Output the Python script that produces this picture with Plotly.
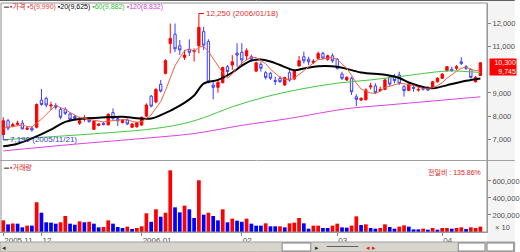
import plotly.graph_objects as go

# ---------------- data ----------------
nov = ["2005-11-%02d" % d for d in [21, 22, 23, 24, 25, 28, 29, 30]]
dec = ["2005-12-%02d" % d for d in [1, 2, 5, 6, 7, 8, 9, 12, 13, 14, 15, 16, 19, 20, 21, 22, 23, 26, 27, 28, 29]]
jan = ["2006-01-%02d" % d for d in [2, 3, 4, 5, 6, 9, 10, 11, 12, 13, 16, 17, 18, 19, 20, 23, 24, 25, 26, 27, 31]]
feb = ["2006-02-%02d" % d for d in [1, 2, 3, 6, 7, 8, 9, 10, 13, 14, 15, 16, 17, 20, 21, 22, 23, 24, 27, 28]]
mar = ["2006-03-%02d" % d for d in [2, 3, 6, 7, 8, 9, 10, 13, 14, 15, 16, 17, 20, 21, 22, 23, 24, 27, 28, 29, 30, 31]]
apr = ["2006-04-%02d" % d for d in [3, 4, 5, 6, 7, 10, 11, 12, 13]]
dates = nov + dec + jan + feb + mar + apr

opens = [7200, 7800, 7560, 7640, 7700, 7430, 7480, 7520, 8690, 8760,
         8440, 8460, 8290, 8290, 8090, 7980, 7690, 7870, 7890, 7430,
         7600, 7690, 7620, 8150, 7890, 7720, 7830, 7520, 7540, 7620,
         8000, 8860, 8610, 9370, 9840, 11130, 11530, 11030, 10530, 10880,
         10780, 11035, 11640, 11210, 9340, 9240, 9440, 10130, 10200, 10710,
         10750, 10590, 10560, 9940, 10230, 9870, 9840, 9530, 9630, 9340,
         9870, 9600, 10160, 10560, 10450, 10300, 10490, 10700, 10450, 10600,
         10450, 9810, 9555, 9630, 8830, 8690, 8700, 9260, 9300, 9100,
         9150, 9670, 9730, 9770, 9270, 9100, 9240, 9120, 9240, 9240,
         9240, 9480, 9630, 9960, 10020, 10060, 10340, 10130, 10010, 9480,
         9750]
highs = [7950, 7880, 7720, 7800, 7830, 7560, 7560, 8550, 9170, 8840,
         8620, 8560, 8380, 8380, 8150, 8050, 7970, 8050, 7970, 7830,
         7700, 7750, 8120, 8330, 7970, 7870, 7900, 7700, 7760, 7980,
         8550, 8910, 9200, 9560, 10450, 11990, 11990, 11280, 10850, 11310,
         10920, 12250, 11850, 11310, 9560, 9560, 10130, 10200, 10630, 11140,
         11140, 10920, 10650, 10350, 10350, 9940, 9910, 9700, 9730, 9700,
         10060, 10010, 10590, 10780, 10560, 10450, 10780, 10780, 10650, 10700,
         10500, 9910, 9720, 9700, 8940, 8800, 9200, 9440, 9410, 9270,
         9630, 9770, 9810, 9910, 9340, 9420, 9340, 9290, 9300, 9280,
         9520, 9680, 9850, 10160, 10130, 10200, 10530, 10200, 10060, 9730,
         10330]
lows = [7190, 7380, 7520, 7600, 7420, 7400, 7330, 7470, 8450, 8380,
        8260, 8280, 7860, 8050, 7830, 7850, 7620, 7760, 7720, 7400,
        7560, 7600, 7610, 7830, 7570, 7680, 7610, 7480, 7500, 7570,
        7970, 8380, 8550, 9020, 9800, 10700, 10760, 10630, 10420, 10590,
        10350, 10700, 10850, 9410, 8720, 9010, 9410, 9700, 9990, 10130,
        10200, 10420, 10350, 9900, 9920, 9580, 9560, 9340, 9440, 9300,
        9480, 9550, 10130, 10270, 10200, 10250, 10420, 10450, 10380, 10300,
        10000, 9550, 9520, 8910, 8430, 8650, 8690, 9150, 8950, 9050,
        9120, 9300, 9410, 9340, 8840, 9080, 9050, 9050, 9100, 9090,
        9200, 9450, 9600, 9920, 9920, 9990, 10200, 9990, 9630, 9440,
        9740]
closes = [7800, 7480, 7640, 7700, 7450, 7480, 7400, 8500, 8500, 8480,
          8480, 8380, 7950, 8120, 7860, 7900, 7800, 7890, 7760, 7780,
          7660, 7640, 8080, 7890, 7800, 7830, 7660, 7660, 7720, 7950,
          8480, 8430, 9150, 9080, 10390, 11350, 10900, 10850, 10630, 10750,
          10820, 11825, 11060, 9480, 9240, 9450, 10090, 9920, 10340, 10630,
          10420, 10820, 10450, 10300, 10060, 9670, 9630, 9500, 9480, 9660,
          9550, 9960, 10390, 10380, 10340, 10370, 10700, 10500, 10600, 10380,
          10060, 9630, 9670, 9050, 8720, 8770, 9130, 9300, 9010, 9150,
          9560, 9380, 9530, 9410, 9100, 9380, 9200, 9150, 9160, 9120,
          9480, 9630, 9810, 10130, 9960, 10130, 10270, 10060, 9670, 9670,
          10300]

volumes = [137, 90, 100, 98, 55, 75, 75, 350, 227, 114,
           110, 98, 114, 188, 98, 86, 125, 114, 120, 98,
           55, 59, 137, 98, 59, 47, 63, 35, 47, 67,
           220, 120, 267, 180, 227, 725, 290, 231, 310, 267,
           165, 608, 204, 227, 188, 137, 267, 114, 157, 133,
           120, 157, 98, 75, 75, 102, 67, 67, 67, 55,
           102, 110, 165, 102, 39, 75, 75, 47, 47, 75,
           98, 55, 51, 75, 184, 82, 90, 47, 39, 47,
           90, 59, 39, 63, 78, 63, 31, 31, 39, 27,
           47, 27, 47, 47, 39, 47, 55, 35, 55, 47,
           63]  # thousands
vol_up = "rbrbbrbrbbbbrrbbrbrbbrrbbbrbrrrbrbrrbbrbbrbrbbrbrbbrbbbrbbrbrrrbbrrbbrrbbrrbrbbrrbbrrbbbrbrbrrbrrbrrr"

ma5_vals = [7480, 7520, 7560, 7600, 7614, 7550, 7534, 7706, 7866, 8072,
            8272, 8468, 8358, 8282, 8158, 8042, 7926, 7914, 7842, 7826,
            7778, 7746, 7784, 7810, 7814, 7848, 7852, 7768, 7734, 7764,
            7894, 8048, 8346, 8618, 9106, 9680, 10174, 10514, 10824, 10896,
            10790, 10975, 11017, 10787, 10485, 10211, 9864, 9636, 9808, 10086,
            10280, 10426, 10532, 10524, 10410, 10260, 10022, 9832, 9668, 9588,
            9564, 9630, 9808, 9988, 10124, 10288, 10436, 10458, 10502, 10510,
            10448, 10234, 10068, 9758, 9426, 9168, 9068, 8994, 8986, 9072,
            9230, 9280, 9326, 9406, 9396, 9360, 9324, 9248, 9198, 9202,
            9222, 9308, 9440, 9634, 9802, 9932, 10060, 10110, 10018, 9960,
            9994]
ma20_idx = [0, 3, 6, 10, 13, 17, 20, 25, 28, 31, 33, 37, 40, 42, 45, 48, 50, 52, 54, 56,
            58, 61, 63, 66, 70, 75, 80, 83, 85, 88, 90, 94, 97, 100]
ma20_vals = [6700, 6810, 7040, 7420, 7750, 7900, 7930, 7970, 7910, 7900, 8040, 8450, 8890, 9400,
             9560, 9880, 10170, 10390, 10440, 10350, 10200, 9980, 10050, 10150, 10130, 9880,
             9780, 9640, 9450, 9250, 9200, 9380, 9520, 9625]
ma60_idx = [0, 6, 13, 25, 30, 37, 42, 48, 55, 62, 70, 77, 84, 91, 94, 97, 100]
ma60_vals = [6980, 7060, 7150, 7330, 7420, 7640, 7930, 8400, 8830, 9150, 9420, 9560, 9730,
             9910, 9950, 9920, 9882]
ma120_idx = [0, 15, 30, 40, 50, 60, 72, 80, 90, 100]
ma120_vals = [6500, 6790, 7050, 7250, 7600, 7900, 8320, 8470, 8650, 8832]

legend_items = ["가격", "5(9,990)", "20(9,625)", "60(9,882)", "120(8,832)"]
price_ticks = [7000, 8000, 9000, 11000, 12000]   # 10,000 is hidden under the price box
vol_ticks = [200, 400, 600]
side_labels = ["10,300", "9,745"]
vol_note = "전일비 : 135.86%"

# ---------------- styling ----------------
RED = "#ff0000"
BLUE = "#0000ff"
CBLUE = "#3c3cff"
FONT = "Liberation Sans Narrow, Liberation Sans, Noto Sans CJK KR, sans-serif"
W, H = 520, 252
ML, MR, MT, MB = 0, 28, 3, 20
PH = H - MT - MB  # 229


def fy(px):  # pixel y -> paper fraction
    return (H - MB - px) / PH


def fx(px):
    return (px - ML) / (W - ML - MR)


n = len(dates)
xs = list(range(n))
fig = go.Figure()

fig.add_trace(go.Candlestick(
    x=xs, open=opens, high=highs, low=lows, close=closes,
    xaxis="x2", yaxis="y",
    increasing=dict(line=dict(color=RED, width=1), fillcolor=RED),
    decreasing=dict(line=dict(color=CBLUE, width=1), fillcolor="white"),
    whiskerwidth=0, showlegend=False, hoverinfo="skip"))

fig.add_trace(go.Scatter(x=ma120_idx, y=ma120_vals, xaxis="x2", yaxis="y", mode="lines",
                         line=dict(color="#e040e0", width=1, shape="spline"), showlegend=False))
fig.add_trace(go.Scatter(x=ma60_idx, y=ma60_vals, xaxis="x2", yaxis="y", mode="lines",
                         line=dict(color="#40c840", width=1, shape="spline"), showlegend=False))
fig.add_trace(go.Scatter(x=ma20_idx, y=ma20_vals, xaxis="x2", yaxis="y", mode="lines",
                         line=dict(color="#000000", width=2, shape="spline"), showlegend=False))
fig.add_trace(go.Scatter(x=xs, y=ma5_vals, xaxis="x2", yaxis="y", mode="lines",
                         line=dict(color="#f06040", width=1), showlegend=False))

fig.add_trace(go.Bar(x=xs, y=[v * 1000 for v in volumes], xaxis="x", yaxis="y2",
                     marker=dict(color=[RED if c == "r" else BLUE for c in vol_up], line=dict(width=0)),
                     showlegend=False, hoverinfo="skip"))

# month ticks
tickvals, ticktext = [], []
prev = None
for i, d in enumerate(dates):
    ym = d[:7]
    if ym != prev:
        tickvals.append(i)
        if prev is None or d[5:7] == "01":
            ticktext.append(d[:4] + "." + d[5:7])
        else:
            ticktext.append(d[5:7])
        prev = ym

xr = [-0.685, 101.39]
fig.update_layout(
    width=W, height=H, margin=dict(l=ML, r=MR, t=MT, b=MB),
    paper_bgcolor="white", plot_bgcolor="white", bargap=0.22, boxgap=0.3,
    xaxis=dict(domain=[0, 1], anchor="y2", range=xr, tickvals=tickvals, ticktext=ticktext,
               ticks="outside", ticklen=3, tickcolor="#808080", ticklabelposition="outside right",
               tickfont=dict(family=FONT, size=8, color="#505050"), showgrid=False, zeroline=False,
               showline=True, linecolor="#a0a0a0", rangeslider=dict(visible=False)),
    xaxis2=dict(domain=[0, 1], anchor="y", matches="x", showticklabels=False, showgrid=False,
                zeroline=False, rangeslider=dict(visible=False)),
    yaxis=dict(domain=[fy(160), 1], range=[6108, 12875], side="right", tickvals=price_ticks,
               tickformat=",d", ticks="outside", ticklen=3, tickcolor="#808080",
               tickfont=dict(family=FONT, size=7.5, color="#505050"), showgrid=False, zeroline=False,
               showline=True, linecolor="#a0a0a0"),
    yaxis2=dict(domain=[0, fy(161)], range=[0, 835000], side="right",
                tickvals=[v * 1000 for v in vol_ticks], tickformat=",d", ticks="outside", ticklen=3,
                tickcolor="#808080", tickfont=dict(family=FONT, size=7.5, color="#505050"),
                showgrid=False, zeroline=False, showline=True, linecolor="#a0a0a0"),
)

shapes = [
    dict(type="rect", xref="paper", yref="paper", x0=1, x1=fx(W), y0=fy(H - MB + 10), y1=fy(0),
         fillcolor="#f4f4f4", line=dict(width=0), layer="below"),
    dict(type="rect", xref="paper", yref="paper", x0=fx(1), x1=1, y0=0, y1=1,
         fillcolor="rgba(0,0,0,0)", line=dict(color="#909090", width=1)),
    dict(type="line", xref="paper", yref="paper", x0=0, x1=fx(W), y0=fy(160.5), y1=fy(160.5),
         line=dict(color="#a0a0a0", width=1)),
    dict(type="line", xref="paper", yref="paper", x0=0, x1=fx(W), y0=fy(0.5), y1=fy(0.5),
         line=dict(color="#606060", width=1)),
    # bottom toolbar
    dict(type="rect", xref="paper", yref="paper", x0=0, x1=fx(W), y0=fy(H), y1=fy(242),
         fillcolor="#d8d5ce", line=dict(color="#a0a0a0", width=1)),
    dict(type="rect", xref="paper", yref="paper", x0=fx(285), x1=fx(314), y0=fy(251), y1=fy(243),
         fillcolor="#ffffff", line=dict(color="#808080", width=1)),
    dict(type="rect", xref="paper", yref="paper", x0=fx(463), x1=fx(490), y0=fy(251), y1=fy(243),
         fillcolor="#ffffff", line=dict(color="#808080", width=1)),
    dict(type="rect", xref="paper", yref="paper", x0=fx(492), x1=fx(519), y0=fy(251), y1=fy(243),
         fillcolor="#ffffff", line=dict(color="#808080", width=1)),
    dict(type="line", xref="paper", yref="paper", x0=fx(330), x1=fx(362), y0=fy(246.5), y1=fy(246.5),
         line=dict(color="#606060", width=1)),
]

# high / low markers
hi_i = max(range(n), key=lambda k: highs[k])
lo_i = min(range(n), key=lambda k: lows[k])
shapes += [
    dict(type="line", xref="x2", yref="y", xsizemode="pixel", xanchor=hi_i, x0=0, x1=0,
         ysizemode="pixel", yanchor=highs[hi_i], y0=0, y1=4, line=dict(color=RED, width=1)),
    dict(type="line", xref="x2", yref="y", xsizemode="pixel", xanchor=hi_i, x0=0, x1=5,
         ysizemode="pixel", yanchor=highs[hi_i], y0=4, y1=4, line=dict(color=RED, width=1)),
    dict(type="line", xref="x2", yref="y", xsizemode="pixel", xanchor=lo_i, x0=0, x1=0,
         ysizemode="pixel", yanchor=lows[lo_i], y0=0, y1=-5, line=dict(color="#3c3cc8", width=1)),
    dict(type="line", xref="x2", yref="y", xsizemode="pixel", xanchor=lo_i, x0=0, x1=5,
         ysizemode="pixel", yanchor=lows[lo_i], y0=-5, y1=-5, line=dict(color="#3c3cc8", width=1)),
]
fig.update_layout(shapes=shapes)


def fmt_date(d):
    return d.replace("-", "/")


ann = [
    dict(xref="x2", yref="y", x=hi_i, y=highs[hi_i], xanchor="left", yanchor="middle", xshift=5, yshift=4,
         text="%s (%s)" % (f"{highs[hi_i]:,}", fmt_date(dates[hi_i])), showarrow=False,
         font=dict(family=FONT, size=8, color="#e03030")),
    dict(xref="x2", yref="y", x=lo_i, y=lows[lo_i], xanchor="left", yanchor="middle", xshift=5, yshift=-5,
         text="%s (%s)" % (f"{lows[lo_i]:,}", fmt_date(dates[lo_i])), showarrow=False,
         font=dict(family=FONT, size=8, color="#3c3cc8")),
]

leg_colors = ["#e02020", "#f04040", "#000000", "#30c030", "#d040d0"]
leg_text = " ".join("<span style='color:%s'>▪%s</span>" % (c, t) for c, t in zip(leg_colors, legend_items))
ann.append(dict(xref="paper", yref="paper", x=fx(8), y=fy(6), xanchor="left", yanchor="middle",
                text=leg_text, showarrow=False, font=dict(family=FONT, size=7)))
ann.append(dict(xref="paper", yref="paper", x=fx(2), y=fy(6), xanchor="left", yanchor="middle",
                text="▬", showarrow=False, font=dict(family=FONT, size=5, color="#707070")))
ann.append(dict(xref="paper", yref="paper", x=fx(8), y=fy(167), xanchor="left", yanchor="middle",
                text="▪거래량", showarrow=False, font=dict(family=FONT, size=7, color="#e02020")))
ann.append(dict(xref="paper", yref="paper", x=fx(2), y=fy(167), xanchor="left", yanchor="middle",
                text="▬", showarrow=False, font=dict(family=FONT, size=5, color="#707070")))
ann.append(dict(xref="paper", yref="paper", x=fx(488), y=fy(172), xanchor="right", yanchor="middle",
                text=vol_note, showarrow=False, font=dict(family=FONT, size=7, color="#e02020")))
ann.append(dict(xref="paper", yref="paper", x=fx(517), y=fy(227), xanchor="right", yanchor="middle",
                text="× 10", showarrow=False, font=dict(family=FONT, size=7.5, color="#505050")))
ann.append(dict(xref="paper", yref="y", x=1, y=closes[-1], xanchor="left", yanchor="top", xshift=2, yshift=5,
                text="<br>".join(side_labels), showarrow=False, bgcolor=RED, borderpad=0, width=26,
                font=dict(family=FONT, size=7, color="white"), align="right"))
# toolbar glyphs
ann.append(dict(xref="paper", yref="paper", x=fx(4), y=fy(247), xanchor="center", yanchor="middle",
                text="◂", showarrow=False, font=dict(family=FONT, size=7, color="#303030")))
ann.append(dict(xref="paper", yref="paper", x=fx(320), y=fy(247), xanchor="center", yanchor="middle",
                text="▸", showarrow=False, font=dict(family=FONT, size=7, color="#303030")))
ann.append(dict(xref="paper", yref="paper", x=fx(375), y=fy(247), xanchor="center", yanchor="middle",
                text="<span style='color:#e02020'>◂ ▸</span>", showarrow=False, font=dict(family=FONT, size=7)))
fig.update_layout(annotations=ann)

fig.write_html("out.html")
